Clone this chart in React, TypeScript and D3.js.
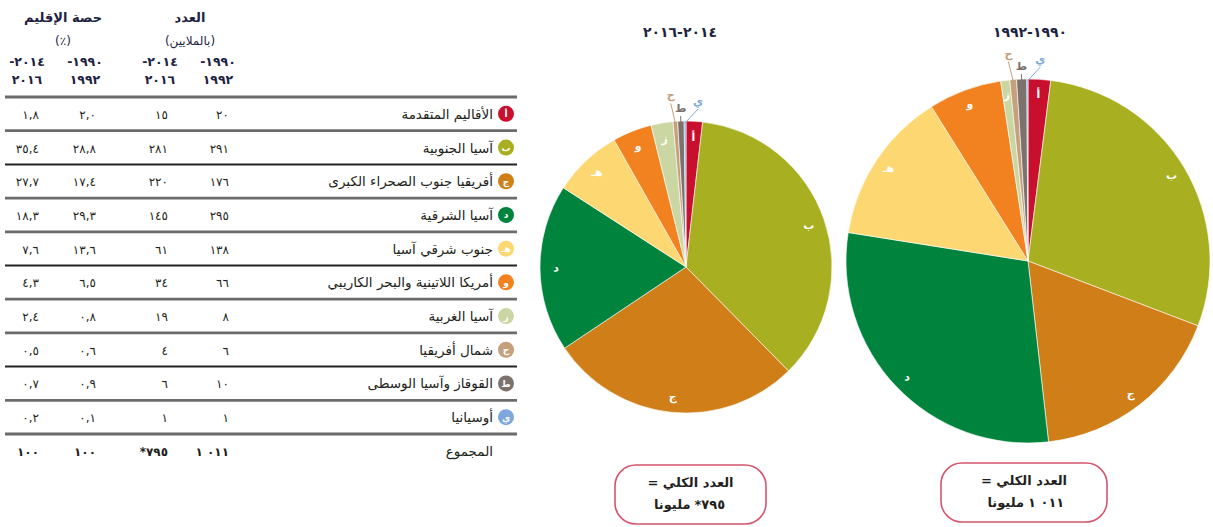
import React from 'react';
import * as d3 from 'd3';

// region letters, names and colours (table + pies)
const letters = ['أ', 'ب', 'ج', 'د', 'هـ', 'و', 'ز', 'ح', 'ط', 'ي'];
const regions = [
  'الأقاليم المتقدمة',
  'آسيا الجنوبية',
  'أفريقيا جنوب الصحراء الكبرى',
  'آسيا الشرقية',
  'جنوب شرقي آسيا',
  'أمريكا اللاتينية والبحر الكاريبي',
  'آسيا الغربية',
  'شمال أفريقيا',
  'القوقاز وآسيا الوسطى',
  'أوسيانيا',
];
const colors = ['#c8102e', '#a8b021', '#d07e18', '#00843d', '#fdd872', '#f2821f', '#cbd7a2', '#c4a07c', '#7d716c', '#7ea8dd'];

// number undernourished (millions)
const count1990 = [20, 291, 176, 295, 138, 66, 8, 6, 10, 1];
const count2014 = [15, 281, 220, 145, 61, 34, 19, 4, 6, 1];
// share of the region (%)
const share1990 = [2.0, 28.8, 17.4, 29.3, 13.6, 6.5, 0.8, 0.6, 0.9, 0.1];
const share2014 = [1.8, 35.4, 27.7, 18.3, 7.6, 4.3, 2.4, 0.5, 0.7, 0.2];
const totals = [1011, 795];
const shareTotals = [100, 100];

const periods = ['١٩٩٠-١٩٩٢', '٢٠١٤-٢٠١٦'];

const AR = '٠١٢٣٤٥٦٧٨٩';
const toAr = (n: number, dec = 0) =>
  n
    .toFixed(dec)
    .replace(/\B(?=(\d{3})+(?!\d))/g, '\u00A0')
    .replace('.', ',')
    .replace(/\d/g, (d) => AR[+d]);

const FONT = '"DejaVu Sans", sans-serif';
const INK = '#231f20';
const NAVY = '#1d2240';

const W = 1213;
const H = 527;

// table layout
const lineTop = 97;
const rowH = 33.7;
const tableLeft = 5;
const tableRight = 517;
const colX = [229, 168, 96, 39]; // right edges of value columns
const headX = [218, 160, 85, 27];

// pie layout
const pies = [
  { cx: 1028, cy: 261, r: 182, values: share1990, total: totals[0], star: '', labelK: 0.92, title: periods[0] },
  { cx: 686, cy: 267, r: 146, values: share2014, total: totals[1], star: '*', labelK: 0.89, title: periods[1] },
];
// small slices labelled outside: extra radius and x-shift
const outside: Record<number, { dr: number; dx: number }> = {
  7: { dr: 22, dx: -3 },
  8: { dr: 9, dx: 0 },
  9: { dr: 16, dx: 13 },
};

const Pie = ({ p }: { p: (typeof pies)[number] }) => {
  const arcs = d3
    .pie<number>()
    .sort(null)
    .value((d) => d)(p.values);
  const arc = d3.arc<d3.PieArcDatum<number>>().innerRadius(0).outerRadius(p.r);
  return (
    <g transform={`translate(${p.cx},${p.cy})`}>
      {arcs.map((a, i) => (
        <path key={i} d={arc(a) || ''} fill={colors[i]} stroke="#fff" strokeWidth={0.6} />
      ))}
      {arcs.map((a, i) => {
        const mid = (a.startAngle + a.endAngle) / 2;
        const o = outside[i];
        if (o) {
          const rr = p.r + o.dr;
          const x = Math.sin(mid) * rr + o.dx;
          const y = -Math.cos(mid) * rr;
          const x0 = Math.sin(mid) * (p.r - 2);
          const y0 = -Math.cos(mid) * (p.r - 2);
          return (
            <g key={i}>
              <line x1={x0} y1={y0} x2={x} y2={y + 4} stroke={colors[i]} strokeWidth={1} />
              <text x={x} y={y} textAnchor="middle" fontFamily={FONT} fontSize={11} fontWeight="bold" fill={colors[i]}>
                {letters[i]}
              </text>
            </g>
          );
        }
        const rr = p.r * p.labelK;
        return (
          <text
            key={i}
            x={Math.sin(mid) * rr}
            y={-Math.cos(mid) * rr}
            dy="0.35em"
            textAnchor="middle"
            fontFamily={FONT}
            fontSize={11}
            fontWeight="bold"
            fill="#fff"
          >
            {letters[i]}
          </text>
        );
      })}
    </g>
  );
};

const TotalBox = ({ p }: { p: (typeof pies)[number] }) => {
  const big = p.r > 160;
  const w = big ? 166 : 151;
  const x = big ? 941 : 615;
  const y = big ? 463 : 465;
  const c = x + w / 2;
  return (
    <g>
      <rect x={x} y={y} width={w} height={59} rx={21} ry={21} fill="#fff" stroke="#d4566c" strokeWidth={1.6} />
      <text x={c} y={y + 22} direction="rtl" textAnchor="middle" fontFamily={FONT} fontSize={13} fontWeight="bold" fill={INK}>
        العدد الكلي =
      </text>
      <text x={c + 4} y={y + 44} textAnchor="start" fontFamily={FONT} fontSize={13} fontWeight="bold" fill={INK}>
        {p.star + toAr(p.total)}
      </text>
      <text x={c} y={y + 44} textAnchor="end" fontFamily={FONT} fontSize={13} fontWeight="bold" fill={INK}>
        مليونا
      </text>
    </g>
  );
};

export default function App() {
  const lines = d3.range(regions.length + 1).map((i) => lineTop + i * rowH);
  const rowY = (i: number) => lineTop + i * rowH + rowH / 2 + 5;
  const headYears = [
    ['-١٩٩٠', '١٩٩٢'],
    ['-٢٠١٤', '٢٠١٦'],
    ['-١٩٩٠', '١٩٩٢'],
    ['-٢٠١٤', '٢٠١٦'],
  ];
  return (
    <svg width={W} height={H} style={{ position: 'absolute', left: 0, top: 0, background: '#fff' }}>
      {/* header */}
      <text x={190} y={22} textAnchor="middle" fontFamily={FONT} fontSize={13} fontWeight="bold" fill={NAVY}>
        العدد
      </text>
      <text x={190} y={45} direction="rtl" textAnchor="middle" fontFamily={FONT} fontSize={12} fill={NAVY}>
        (بالملايين)
      </text>
      <text x={63} y={22} textAnchor="middle" fontFamily={FONT} fontSize={13} fontWeight="bold" fill={NAVY}>
        حصة الإقليم
      </text>
      <text x={63} y={45} direction="rtl" textAnchor="middle" fontFamily={FONT} fontSize={12} fill={NAVY}>
        (٪)
      </text>
      {headYears.map((hy, j) => (
        <g key={j}>
          <text x={headX[j]} y={66} textAnchor="middle" fontFamily={FONT} fontSize={12.5} fontWeight="bold" fill={NAVY}>
            {hy[0]}
          </text>
          <text x={headX[j]} y={84} textAnchor="middle" fontFamily={FONT} fontSize={12.5} fontWeight="bold" fill={NAVY}>
            {hy[1]}
          </text>
        </g>
      ))}

      {/* rules */}
      {lines.map((y, i) => (
        <line key={i} x1={tableLeft} x2={tableRight} y1={y} y2={y} stroke={i % 3 === 2 ? '#222' : '#6b6b6b'} strokeWidth={i % 3 === 2 ? 2 : 2.8} />
      ))}

      {/* rows */}
      {regions.map((name, i) => {
        const y = rowY(i);
        const vals = [toAr(count1990[i]), toAr(count2014[i]), toAr(share1990[i], 1), toAr(share2014[i], 1)];
        return (
          <g key={i}>
            <circle cx={506} cy={y - 5} r={8} fill={colors[i]} />
            <text x={506} y={y - 1.5} textAnchor="middle" fontFamily={FONT} fontSize={9} fontWeight="bold" fill="#fff">
              {letters[i]}
            </text>
            <text x={493} y={y} textAnchor="end" fontFamily={FONT} fontSize={13.5} fill={INK}>
              {name}
            </text>
            {vals.map((v, j) => (
              <text key={j} x={colX[j]} y={y} textAnchor="end" fontFamily={FONT} fontSize={12} fill={INK}>
                {v}
              </text>
            ))}
          </g>
        );
      })}

      {/* total row */}
      {(() => {
        const y = rowY(regions.length);
        const vals = [toAr(totals[0]), '*' + toAr(totals[1]), toAr(shareTotals[0]), toAr(shareTotals[1])];
        return (
          <g>
            <text x={493} y={y} textAnchor="end" fontFamily={FONT} fontSize={13.5} fill={INK}>
              المجموع
            </text>
            {vals.map((v, j) => (
              <text key={j} x={colX[j]} y={y} textAnchor="end" fontFamily={FONT} fontSize={12} fontWeight="bold" fill={INK}>
                {v}
              </text>
            ))}
          </g>
        );
      })()}

      {/* pies */}
      {pies.map((p, k) => (
        <g key={k}>
          <text x={p.cx + (k === 0 ? 2 : -6)} y={37} textAnchor="middle" fontFamily={FONT} fontSize={14} fontWeight="bold" fill={NAVY}>
            {p.title}
          </text>
          <Pie p={p} />
          <TotalBox p={p} />
        </g>
      ))}
    </svg>
  );
}
